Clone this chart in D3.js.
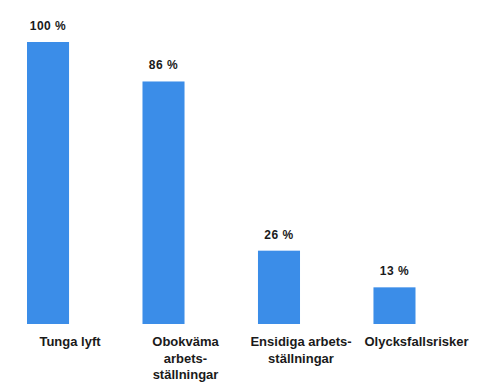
<!DOCTYPE html>
<html>
<head>
<meta charset="utf-8">
<script src="https://cdn.jsdelivr.net/npm/d3@7"></script>
<style>
html,body{margin:0;padding:0;background:#fff;}
svg{display:block;}
text{font-family:"Liberation Sans",Arial,sans-serif;fill:#1a1a1a;}
</style>
</head>
<body>
<svg id="chart" width="488" height="385"></svg>
<script>
const categories = ["Tunga lyft", "Obokväma arbets-ställningar", "Ensidiga arbets-ställningar", "Olycksfallsrisker"];
const categoryLines = [["Tunga lyft"], ["Obokväma", "arbets-", "ställningar"], ["Ensidiga arbets-", "ställningar"], ["Olycksfallsrisker"]];
const values = [100, 86, 26, 13];
const valueLabels = ["100 %", "86 %", "26 %", "13 %"];

const svg = d3.select("#chart");
const x = d3.scaleBand().domain(categories).range([27, 415.5]).paddingInner(0.636).paddingOuter(0);
const y = d3.scaleLinear().domain([0, 100]).range([324, 42]);

svg.selectAll("rect.bar").data(values).join("rect")
  .attr("class", "bar")
  .attr("x", (d, i) => x(categories[i]))
  .attr("y", d => y(d))
  .attr("width", x.bandwidth())
  .attr("height", d => y(0) - y(d))
  .attr("fill", "#3b8de8");

svg.selectAll("text.val").data(values).join("text")
  .attr("class", "val")
  .attr("x", (d, i) => x(categories[i]) + x.bandwidth() / 2)
  .attr("y", d => y(d) - 12)
  .attr("text-anchor", "middle")
  .attr("font-size", 12)
  .attr("font-weight", "bold")
  .attr("letter-spacing", 0.5)
  .text((d, i) => valueLabels[i]);

const cat = svg.selectAll("text.cat").data(categoryLines).join("text")
  .attr("class", "cat")
  .attr("text-anchor", "middle")
  .attr("font-size", 13)
  .attr("font-weight", "bold")
  .attr("transform", (d, i) => `translate(${x(categories[i]) + x.bandwidth() / 2 + 22},346)`);
cat.selectAll("tspan").data(d => d).join("tspan")
  .attr("x", 0)
  .attr("y", (d, j) => j * 16.5)
  .text(d => d);
</script>
</body>
</html>
